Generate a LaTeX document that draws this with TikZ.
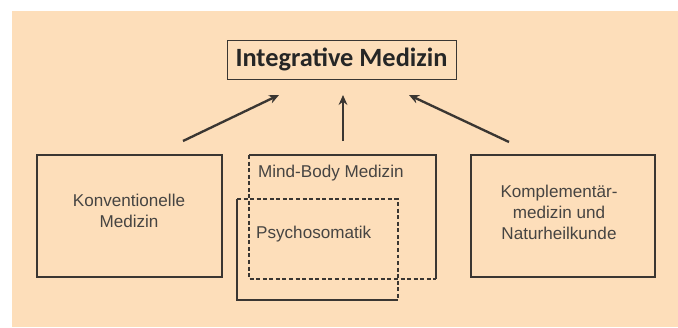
\documentclass[tikz,border=0pt]{standalone}
\usepackage{fontspec}
\setmainfont{Liberation Sans}
\newfontfamily\titlefont{Carlito}
\usetikzlibrary{arrows.meta}
\definecolor{peach}{RGB}{253,222,186}
\definecolor{linegray}{RGB}{58,54,50}
\definecolor{textgray}{RGB}{70,68,66}

\tikzset{
  box/.style={draw=linegray, line width=1.2pt, inner sep=0pt, outer sep=0pt},
  frame/.style={inner sep=0pt, outer sep=0pt},
  label text/.style={text=textgray, font=\fontsize{14.6}{17.8}\selectfont, align=center, inner sep=0pt},
  dash line/.style={draw=linegray, line width=1.2pt, dash pattern=on 3.4pt off 2.2pt},
  solid line/.style={draw=linegray, line width=1.2pt}
}

\begin{document}
\begin{tikzpicture}[x=0.03cm, y=-0.03cm, -{Stealth[length=8.5pt,width=7.5pt]}, line width=2pt, draw=linegray]
      \fill[peach] (12,11) rectangle (678,327);
      \useasboundingbox (0,0) rectangle (678,327);

      \node[box, line width=0.8pt, minimum width=6.87cm, minimum height=1.17cm,
            font=\titlefont\bfseries\fontsize{22.5}{25}\selectfont, text=black!85] (im) at (341.5, 59.5) {Integrative Medizin};

      \node[box, minimum width=5.55cm, minimum height=3.66cm] (kon) at (129.5, 216) {};
      \node[box, minimum width=5.52cm, minimum height=3.66cm] (kom) at (563, 216) {};
      \node[frame, minimum width=5.61cm, minimum height=3.72cm] (mb) at (342.5, 217) {};
      \node[frame, minimum width=4.83cm, minimum height=3.03cm] (ps) at (317.5, 249.5) {};

      \node[label text] (kontext) at (129, 210.5) {Konventionelle\\Medizin};
      \node[label text] (komtext) at (559, 212.5) {Komplement\"ar-\\medizin und\\Naturheilkunde};
      \node[label text, anchor=base west] (mbtext) at (257, 177) {Mind-Body Medizin};
      \node[label text, anchor=base west] (pstext) at (255, 238) {Psychosomatik};

      % overlapping frames
      \draw[solid line, -] (mb.north west) -- (mb.north east) -- (mb.south east);
      \draw[dash line, -] (mb.north west) -- (mb.south west) -- (mb.south east);
      \draw[dash line, -] (ps.north west) -- (ps.north east) -- (ps.south east);
      \draw[solid line, -] (ps.north west) -- (ps.south west) -- (ps.south east);

      \coordinate (a1) at (183, 141);
      \coordinate (b1) at (279, 95);
      \coordinate (a2) at (343, 141);
      \coordinate (b2) at (343, 95);
      \coordinate (a3) at (509, 142);
      \coordinate (b3) at (409, 95);

      \path
        (a1) edge (b1)
        (a2) edge (b2)
        (a3) edge (b3);
    \end{tikzpicture}
\end{document}
